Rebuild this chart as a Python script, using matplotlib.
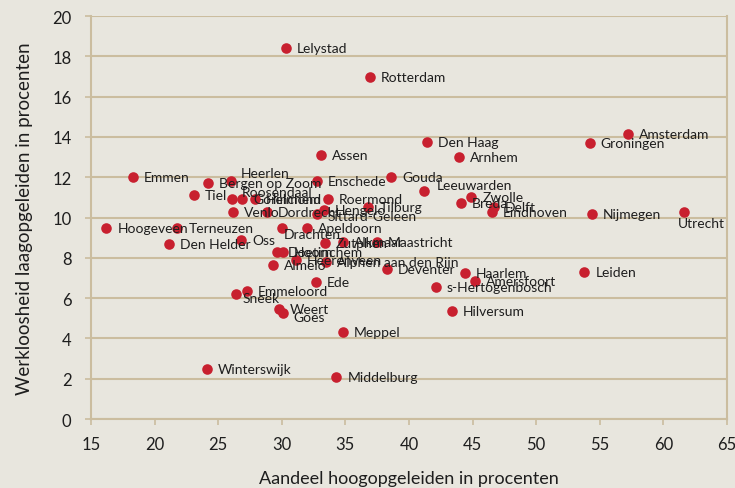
import matplotlib.pyplot as plt

plt.rcParams['font.family'] = ['Lato', 'DejaVu Sans']

# gemeenten, aandeel hoogopgeleiden (x) en werkloosheid laagopgeleiden (y)
steden = ['Lelystad', 'Rotterdam', 'Amsterdam', 'Groningen', 'Den Haag', 'Arnhem',
          'Assen', 'Emmen', 'Heerlen', 'Bergen op Zoom', 'Tiel', 'Enschede', 'Gouda',
          'Leeuwarden', 'Zwolle', 'Breda', 'Delft', 'Eindhoven', 'Nijmegen', 'Utrecht',
          'Roosendaal', 'Gorinchem', 'Helmond', 'Venlo', 'Dordrecht', 'Roermond',
          'Hengelo', 'Sittard-Geleen', 'Tilburg', 'Hoogeveen', 'Terneuzen', 'Den Helder',
          'Oss', 'Drachten', 'Apeldoorn', 'Zutphen', 'Alkmaar', 'Maastricht',
          'Doetinchem', 'Hoorn', 'Almelo', 'Heerenveen', 'Alphen aan den Rijn',
          'Deventer', 'Haarlem', 'Amersfoort', 's-Hertogenbosch', 'Leiden', 'Hilversum',
          'Ede', 'Emmeloord', 'Sneek', 'Weert', 'Goes', 'Meppel', 'Winterswijk',
          'Middelburg']
hoog = [30.3, 36.9, 57.2, 54.2, 41.4, 43.9,
        33.1, 18.3, 26.0, 24.2, 23.1, 32.75, 38.6,
        41.2, 44.9, 44.1, 46.7, 46.5, 54.4, 61.6,
        26.1, 26.9, 27.9, 26.15, 28.8, 33.6,
        33.3, 32.75, 36.8, 16.2, 21.8, 21.1,
        26.8, 30.0, 32.0, 33.4, 34.8, 37.5,
        29.6, 30.1, 29.3, 31.1, 33.5,
        38.25, 44.4, 45.2, 42.1, 53.8, 43.4,
        32.7, 27.25, 26.4, 29.8, 30.1, 34.8, 24.1,
        34.3]
werkloos = [18.4, 16.97, 14.15, 13.7, 13.75, 13.0,
            13.1, 12.0, 11.8, 11.7, 11.1, 11.8, 12.0,
            11.3, 11.0, 10.7, 10.5, 10.3, 10.2, 10.3,
            10.9, 10.9, 10.9, 10.3, 10.3, 10.9,
            10.4, 10.2, 10.5, 9.5, 9.5, 8.7,
            8.9, 9.5, 9.5, 8.75, 8.8, 8.8,
            8.3, 8.3, 7.65, 7.9, 7.8,
            7.45, 7.25, 6.85, 6.55, 7.3, 5.35,
            6.8, 6.35, 6.2, 5.45, 5.25, 4.3, 2.5,
            2.1]

x_ticks = [15, 20, 25, 30, 35, 40, 45, 50, 55, 60, 65]
y_ticks = [0, 2, 4, 6, 8, 10, 12, 14, 16, 18, 20]

# afwijkende labelposities (pixels: rechts, omhoog)
afwijking = {'Heerlen': (10, 8), 'Roosendaal': (10, 7), 'Leeuwarden': (13, 6),
             'Utrecht': (-6, -11), 'Drachten': (2, -6), 'Sneek': (7, -4),
             'Goes': (10, -4), 'Sittard-Geleen': (11, -2)}

bg = '#e8e6de'
lijn = '#cbbd9f'
rood = '#c8202f'
tekst = '#1e1e1e'

fig = plt.figure(figsize=(7.35, 4.89), dpi=100, facecolor=bg)
ax = fig.add_axes([0.1238, 0.1411, 0.989 - 0.1238, 0.965 - 0.1411])
ax.set_facecolor(bg)

ax.scatter(hoog, werkloos, s=58, color=rood, zorder=3, linewidths=0)
for naam, x, y in zip(steden, hoog, werkloos):
    dx, dy = afwijking.get(naam, (11, 0))
    ax.annotate(naam, (x, y), xytext=(dx, dy), textcoords='offset pixels',
                fontsize=10, color=tekst, va='center', ha='left', zorder=4)

ax.set_xlim(15, 65)
ax.set_ylim(0, 20)
ax.set_xticks(x_ticks)
ax.set_yticks(y_ticks)
ax.yaxis.grid(True, color=lijn, linewidth=1.5)
ax.set_axisbelow(True)
for kant in ['left', 'right', 'bottom']:
    ax.spines[kant].set_color(lijn)
    ax.spines[kant].set_linewidth(1.5)
ax.spines['top'].set_visible(False)
ax.tick_params(colors=lijn, labelcolor=tekst, labelsize=12, length=4, width=1.2)
ax.tick_params(axis='x', pad=8)
ax.tick_params(axis='y', pad=10)

ax.set_xlabel('Aandeel hoogopgeleiden in procenten', fontsize=13, color=tekst, labelpad=13)
ax.set_ylabel('Werkloosheid laagopgeleiden in procenten', fontsize=13.5, color=tekst, labelpad=14)

fig.savefig('out.png', dpi=100, facecolor=bg)
